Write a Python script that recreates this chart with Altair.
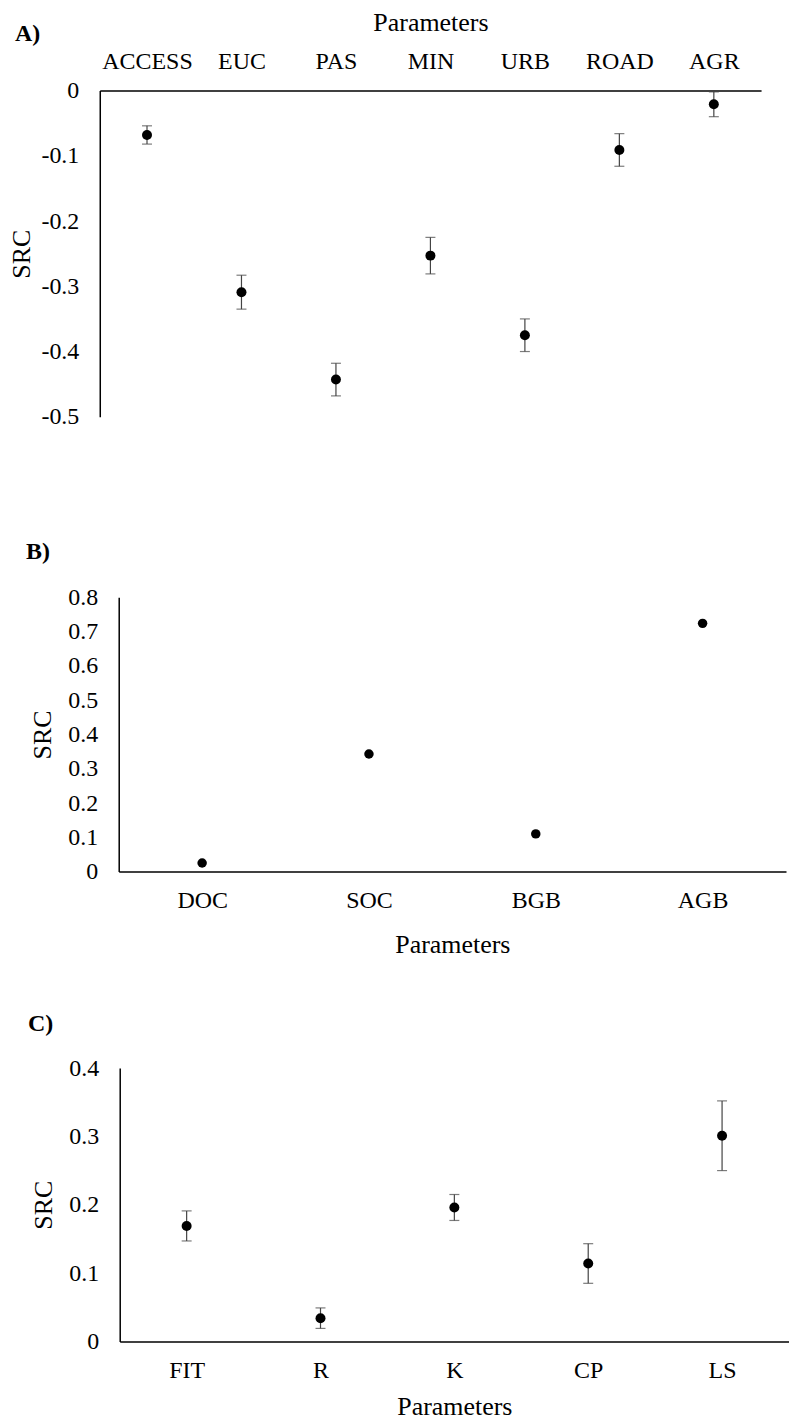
import altair as alt
import pandas as pd

# ---- data ----
a_params = ["ACCESS", "EUC", "PAS", "MIN", "URB", "ROAD", "AGR"]
a_src = [-0.068, -0.309, -0.443, -0.253, -0.375, -0.091, -0.021]
a_err = [0.014, 0.026, 0.025, 0.028, 0.025, 0.025, 0.019]
a_ticks = [-0.5, -0.4, -0.3, -0.2, -0.1, 0]

b_params = ["DOC", "SOC", "BGB", "AGB"]
b_src = [0.025, 0.343, 0.110, 0.724]
b_ticks = [0, 0.1, 0.2, 0.3, 0.4, 0.5, 0.6, 0.7, 0.8]

c_params = ["FIT", "R", "K", "CP", "LS"]
c_src = [0.169, 0.034, 0.196, 0.114, 0.301]
c_err = [0.022, 0.015, 0.019, 0.029, 0.051]
c_ticks = [0, 0.1, 0.2, 0.3, 0.4]

FONT = "Liberation Serif"
LBL = 24
TTL = 26
LABEL_EXPR = "'' + datum.value"


def table(params, src, err=None):
    df = pd.DataFrame({"param": params, "src": src})
    if err is not None:
        df["lo"] = [s - e for s, e in zip(src, err)]
        df["hi"] = [s + e for s, e in zip(src, err)]
    return df


def panel(df, params, ticks, ydom, width, height, x_orient, yoffset, xrange,
          label, title_dx, title_offset, title_dy, pt_size, with_err,
          x_lp, x_tp, y_tp):
    xaxis = alt.Axis(orient=x_orient, title="Parameters", labelAngle=0,
                     ticks=False, tickSize=0, grid=False,
                     labelPadding=x_lp, titlePadding=x_tp,
                     domainColor="black", domainWidth=1.5)
    if xrange is not None:
        xscale = alt.Scale(type="point", padding=0.5, range=xrange)
    else:
        xscale = alt.Scale(type="point", padding=0.5)
    x = alt.X("param:N", sort=params, scale=xscale, axis=xaxis)
    yaxis = alt.Axis(title="SRC", values=ticks, labelExpr=LABEL_EXPR,
                     ticks=False, tickSize=0, grid=False,
                     labelPadding=21, titlePadding=y_tp, offset=yoffset,
                     domainColor="black", domainWidth=1.5)
    yscale = alt.Scale(domain=ydom, nice=False, zero=False)
    base = alt.Chart(df)
    layers = []
    if with_err:
        layers.append(base.mark_rule(color="#444444", strokeWidth=1.2).encode(
            x=x, y=alt.Y("lo:Q", scale=yscale, axis=yaxis), y2="hi:Q"))
        layers.append(base.mark_tick(color="#444444", size=10, thickness=1.2).encode(
            x=x, y=alt.Y("lo:Q", scale=yscale, axis=yaxis)))
        layers.append(base.mark_tick(color="#444444", size=10, thickness=1.2).encode(
            x=x, y=alt.Y("hi:Q", scale=yscale, axis=yaxis)))
    layers.append(base.mark_circle(color="black", opacity=1, size=pt_size).encode(
        x=x, y=alt.Y("src:Q", scale=yscale, axis=yaxis)))
    return alt.layer(*layers).properties(
        width=width, height=height,
        title=alt.TitleParams(label, anchor="start", frame="group",
                              fontWeight="bold", fontSize=24, font=FONT,
                              color="black", baseline="alphabetic",
                              dx=title_dx, dy=title_dy, offset=title_offset),
    )


chart_a = panel(table(a_params, a_src, a_err), a_params, a_ticks, [-0.5, 0],
                663, 327, "top", 0, None, "A)", -85, 0, 55, 100, True,
                17, 14, 6)
chart_b = panel(table(b_params, b_src), b_params, b_ticks, [0, 0.8],
                688, 275, "bottom", -19, [19, 688], "B)", -74, 2, 0, 90, False,
                17, 19, 12)
chart_c = panel(table(c_params, c_src, c_err), c_params, c_ticks, [0, 0.4],
                691, 274, "bottom", -20, [20, 691], "C)", -72, 1, 0, 100, True,
                17, 11, 12)

chart = alt.vconcat(
    alt.vconcat(chart_a, chart_b, spacing=112),
    chart_c, spacing=55,
).properties(
    padding={"left": 1, "top": 0, "right": 0, "bottom": 0},
).configure_view(stroke=None).configure_axis(
    labelFont=FONT, titleFont=FONT, labelFontSize=LBL, titleFontSize=TTL,
    labelColor="black", titleColor="black", titleFontWeight="normal",
)

chart.save("out.html", embed_options={"renderer": "svg", "actions": False})
